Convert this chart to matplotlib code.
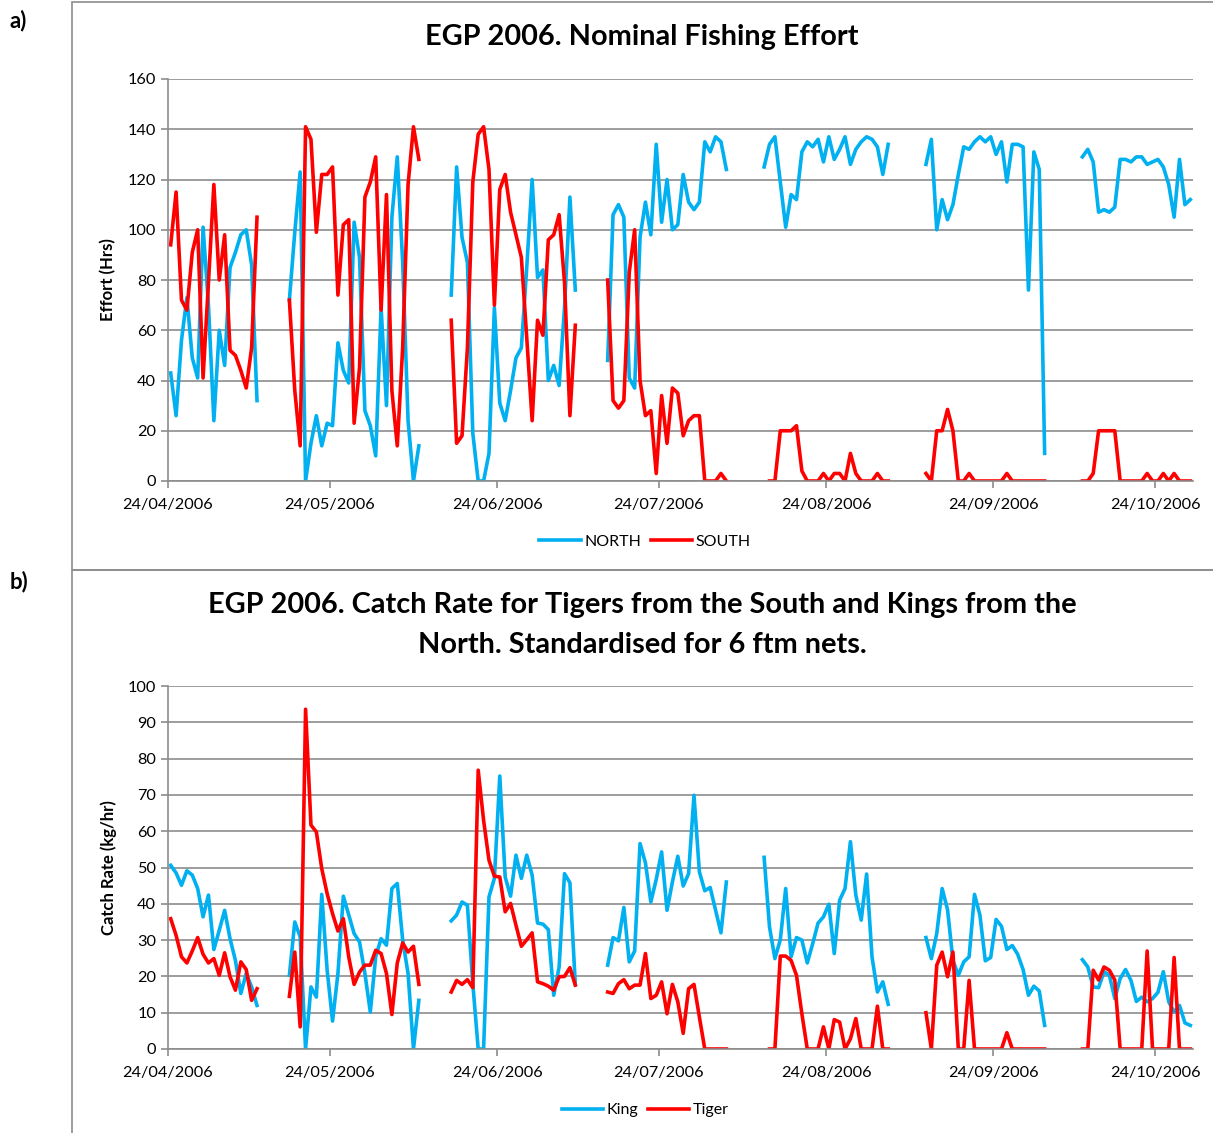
import numpy as np
import pandas as pd
import matplotlib
matplotlib.use("Agg")
import matplotlib.pyplot as plt
import matplotlib.dates as mdates
from matplotlib.patches import Rectangle

nan = np.nan


def gap(n):
    return [nan] * n


# daily values from 24/04/2006 to 30/10/2006, nan = no fishing that day
START = "2006-04-24"

north_effort = (
    [43, 26, 56, 73, 49, 41, 101, 70, 24, 60, 46, 85, 91, 98, 100, 86, 32] + gap(5)
    + [72, 99, 123, 0, 15, 26, 14, 23, 22, 55, 44, 39, 103, 89, 28, 22, 10, 69, 30,
       105, 129, 87, 24, 0, 14] + gap(5)
    + [74, 125, 97, 87, 19, 0, 0, 11, 69, 31, 24, 36, 49, 53, 85, 120, 81, 84, 40,
       46, 38, 69, 113, 76] + gap(5)
    + [48, 106, 110, 105, 41, 37, 97, 111, 98, 134, 103, 120, 100, 102, 122, 111,
       108, 111, 135, 131, 137, 135, 124] + gap(6)
    + [125, 134, 137, 119, 101, 114, 112, 131, 135, 133, 136, 127, 137, 128, 132,
       137, 126, 132, 135, 137, 136, 133, 122, 134] + gap(6)
    + [126, 136, 100, 112, 104, 110, 122, 133, 132, 135, 137, 135, 137, 130, 135,
       119, 134, 134, 133, 76, 131, 124, 11] + gap(6)
    + [129, 132, 127, 107, 108, 107, 109, 128, 128, 127, 129, 129, 126, 127, 128,
       125, 118, 105, 128, 110, 112]
)

south_effort = (
    [94, 115, 72, 68, 91, 100, 41, 79, 118, 80, 98, 52, 50, 44, 37, 53, 105] + gap(5)
    + [72, 36, 14, 141, 136, 99, 122, 122, 125, 74, 102, 104, 23, 45, 113, 119, 129,
       68, 114, 36, 14, 53, 118, 141, 128] + gap(5)
    + [64, 15, 18, 53, 119, 138, 141, 124, 70, 116, 122, 107, 98, 89, 57, 24, 64, 58,
       96, 98, 106, 79, 26, 62] + gap(5)
    + [80, 32, 29, 32, 83, 100, 40, 26, 28, 3, 34, 15, 37, 35, 18, 24, 26, 26, 0, 0,
       0, 3, 0] + gap(7)
    + [0, 0, 20, 20, 20, 22, 4, 0, 0, 0, 3, 0, 3, 3, 0, 11, 3, 0, 0, 0, 3, 0, 0] + gap(6)
    + [3, 0, 20, 20, 28.5, 20, 0, 0, 3, 0, 0, 0, 0, 0, 0, 3, 0, 0, 0, 0, 0, 0, 0] + gap(6)
    + [0, 0, 3, 20, 20, 20, 20, 0, 0, 0, 0, 0, 3, 0, 0, 3, 0, 3, 0, 0, 0]
)

king_rate = (
    [50.6, 48.5, 45.1, 49.1, 47.9, 44.2, 36.4, 42.4, 27.4, 32.7, 38.2, 30.4, 24.4,
     15.3, 20.8, 17.1, 12] + gap(5)
    + [20.3, 35, 30.9, 0, 17.1, 14.3, 42.6, 21.7, 7.7, 20.8, 42.1, 36.9, 31.8, 29.5,
       20.8, 10.2, 25.4, 30.4, 28.6, 44.2, 45.6, 30, 20.8, 0, 13.4] + gap(5)
    + [35.3, 36.9, 40.5, 39.6, 18, 0, 0, 41.9, 47, 75.2, 47.4, 42.1, 53.4, 47, 53.4,
       47.9, 34.7, 34.4, 32.9, 14.8, 22.6, 48.3, 45.8, 17.8] + gap(5)
    + [23.1, 30.7, 29.8, 39, 24, 27, 56.6, 51.3, 40.5, 46.7, 54.3, 38.2, 46, 53.1,
       44.9, 48.3, 69.9, 48.8, 43.6, 44.5, 38.2, 32, 46] + gap(6)
    + [52.8, 33.6, 24.9, 30.1, 44.2, 25.4, 30.7, 30, 23.7, 29, 34.7, 36.4, 39.9, 26.3,
       41, 44.2, 57.1, 42.4, 35.5, 48.2, 25.4, 15.7, 18.5, 12.3] + gap(6)
    + [30.7, 24.9, 31.8, 44.2, 38.4, 24.4, 20.3, 24, 25.4, 42.6, 36.9, 24.3, 25.2,
       35.7, 33.8, 27.4, 28.5, 26.1, 21.9, 14.8, 17.3, 16, 6.5] + gap(6)
    + [24.6, 22.6, 17.1, 16.9, 21.3, 20.3, 13.9, 19.4, 21.9, 18.9, 13.1, 14.3, 13,
       13.9, 15.6, 21.3, 13, 10.2, 12, 7.2, 6.5]
)

tiger_rate = (
    [35.9, 31.3, 25.4, 23.7, 27, 30.7, 26.1, 23.7, 24.9, 20.3, 26.5, 19.9, 16.2, 24,
     21.9, 13.4, 16.6] + gap(5)
    + [14.5, 26.7, 6.1, 93.6, 61.7, 59.8, 49.7, 42.8, 37.3, 32.5, 35.9, 25.4, 17.8,
       21.2, 23.1, 23.1, 27.2, 26.3, 20.8, 9.5, 23.7, 29.2, 26.7, 28.3, 17.8] + gap(5)
    + [15.7, 18.9, 17.8, 19.1, 16.9, 76.8, 63, 52, 47.6, 47.4, 37.8, 40.1, 34.1, 28.3,
       30.1, 32, 18.5, 18, 17.3, 16.2, 19.9, 20, 22.4, 17.6] + gap(5)
    + [15.7, 15.3, 18, 19.1, 16.6, 17.6, 17.6, 26.3, 13.9, 14.8, 18.5, 9.7, 17.8, 13,
       4.3, 16.6, 17.8, 8.8, 0, 0, 0, 0, 0] + gap(7)
    + [0, 0, 25.6, 25.6, 24.4, 20.3, 9.7, 0, 0, 0, 6.1, 0, 8.1, 7.4, 0, 2.8, 8.4, 0,
       0, 0, 11.8, 0, 0] + gap(6)
    + [10, 0, 23.1, 26.7, 19.9, 26.7, 0, 0, 18.9, 0, 0, 0, 0, 0, 0, 4.5, 0, 0, 0, 0,
       0, 0, 0] + gap(6)
    + [0, 0, 21.7, 19, 22.6, 21.7, 19, 0, 0, 0, 0, 0, 27, 0, 0, 0, 0, 25.2, 0, 0, 0]
)

tick_dates = ["2006-04-24", "2006-05-24", "2006-06-24", "2006-07-24",
              "2006-08-24", "2006-09-24", "2006-10-24"]

BLUE = "#00b0f0"
RED = "#ff0000"
GRID = "#8c8c8c"

plt.rcParams["font.family"] = ["Lato", "DejaVu Sans"]

W, H = 1213, 1133
fig = plt.figure(figsize=(W / 100, H / 100), dpi=100)

# days plotted in the middle of their date slot (excel date axis)
days = pd.date_range(START, periods=len(north_effort)) + pd.Timedelta(hours=12)


def fx(px):
    return px / W


def fy(py):
    return 1 - py / H


def style_axis(ax, ymax, ystep):
    ax.set_xlim(pd.Timestamp("2006-04-24"), pd.Timestamp("2006-10-31"))
    ax.set_ylim(0, ymax)
    ax.set_yticks(np.arange(0, ymax + 1, ystep))
    ax.set_xticks(pd.to_datetime(tick_dates))
    ax.xaxis.set_major_formatter(mdates.DateFormatter("%d/%m/%Y"))
    ax.grid(axis="y", color=GRID, linewidth=1.2)
    ax.set_axisbelow(True)
    for side in ["top", "right"]:
        ax.spines[side].set_visible(False)
    for side in ["left", "bottom"]:
        ax.spines[side].set_color(GRID)
        ax.spines[side].set_linewidth(1.2)
    ax.tick_params(axis="both", colors=GRID, length=5, width=1.2, labelsize=11.7,
                   labelcolor="black")
    ax.tick_params(axis="x", pad=7)


# chart frames
for top, bottom in [(2, 570), (570, H + 5)]:
    fig.patches.append(Rectangle((fx(72), fy(bottom)), fx(W + 10 - 72), (bottom - top) / H,
                                 transform=fig.transFigure, fill=False,
                                 edgecolor="#8c8c8c", linewidth=1.2))

fig.text(fx(10), fy(21), "a)", fontsize=16, fontweight="bold", va="center")
fig.text(fx(10), fy(582), "b)", fontsize=16, fontweight="bold", va="center")

# panel a
ax1 = fig.add_axes([fx(168), fy(481), fx(1193 - 168), (481 - 79) / H])
ax1.plot(days, north_effort, color=BLUE, linewidth=2.6, label="NORTH")
ax1.plot(days, south_effort, color=RED, linewidth=2.6, label="SOUTH")
style_axis(ax1, 160, 20)
ax1.set_ylabel("Effort (Hrs)", fontsize=12, fontweight="bold", labelpad=8)
fig.text(fx(642), fy(37), "EGP 2006. Nominal Fishing Effort", fontsize=20.8,
         fontweight="bold", ha="center", va="center")
fig.legend(*ax1.get_legend_handles_labels(), loc="center", bbox_to_anchor=(fx(645), fy(542)),
           ncol=2, frameon=False, fontsize=11.5, handlelength=2.6, handletextpad=0.2,
           columnspacing=0.6)

# panel b
ax2 = fig.add_axes([fx(168), fy(1049), fx(1193 - 168), (1049 - 686) / H])
ax2.plot(days, king_rate, color=BLUE, linewidth=2.6, label="King")
ax2.plot(days, tiger_rate, color=RED, linewidth=2.6, label="Tiger")
style_axis(ax2, 100, 10)
ax2.set_ylabel("Catch Rate (kg/hr)", fontsize=12, fontweight="bold", labelpad=8)
fig.text(fx(642), fy(625),
         "EGP 2006. Catch Rate for Tigers from the South and Kings from the\n"
         "North. Standardised for 6 ftm nets.",
         fontsize=20.8, fontweight="bold", ha="center", va="center", linespacing=1.65)
fig.legend(*ax2.get_legend_handles_labels(), loc="center", bbox_to_anchor=(fx(645), fy(1110)),
           ncol=2, frameon=False, fontsize=11.5, handlelength=2.6, handletextpad=0.2,
           columnspacing=0.6)

fig.savefig("out.png", dpi=100)
